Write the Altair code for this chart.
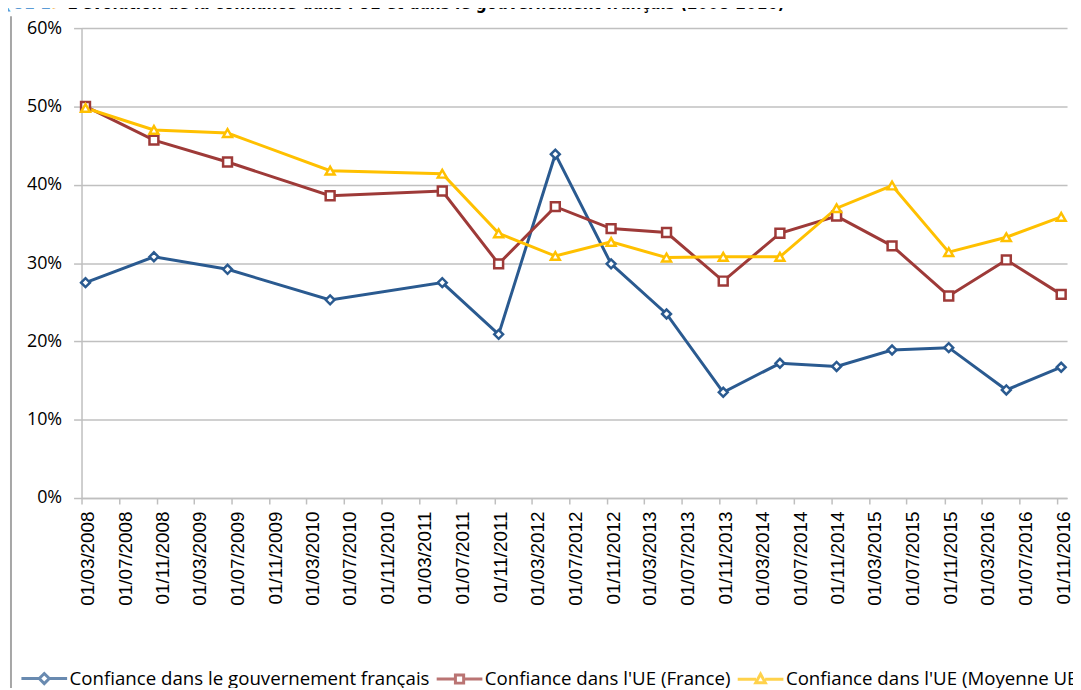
import altair as alt
import pandas as pd

# ---- data ----
dates = ["2008-03-14", "2008-10-22", "2009-06-18", "2010-05-17", "2011-05-16",
         "2011-11-15", "2012-05-17", "2012-11-14", "2013-05-13", "2013-11-13",
         "2014-05-16", "2014-11-16", "2015-05-15", "2015-11-15", "2016-05-20",
         "2016-11-14"]
gouv_fr = [27.5, 30.8, 29.2, 25.3, 27.5, 20.9, 43.9, 29.9, 23.5, 13.5,
           17.2, 16.8, 18.9, 19.2, 13.8, 16.7]
ue_france = [50.0, 45.7, 42.9, 38.6, 39.2, 29.9, 37.2, 34.4, 33.9, 27.7,
             33.8, 36.0, 32.2, 25.8, 30.4, 26.0]
ue_moyenne = [49.8, 47.0, 46.6, 41.8, 41.4, 33.8, 30.9, 32.7, 30.7, 30.8,
              30.8, 37.0, 39.9, 31.4, 33.3, 35.9]
series_names = ["Confiance dans le gouvernement français",
                "Confiance dans l'UE (France)",
                "Confiance dans l'UE (Moyenne UE)"]
tick_years = list(range(2008, 2017))
tick_months = [3, 7, 11]
y_ticks = [0, 10, 20, 30, 40, 50, 60]
title_label = "GRAPHIQUE 1"
title_text = "L'évolution de la confiance dans l'UE et dans le gouvernement français (2008-2016)"

colors = ["#2a5a90", "#9e3a38", "#ffc000"]
marker_shapes = ["diamond", "square", "triangle-up"]
legend_paths = [
    "M-1,0H-0.22M0.22,0H1M-0.22,0L0,-0.22L0.22,0L0,0.22Z",
    "M-1,0H-0.18M0.18,0H1M-0.18,-0.18H0.18V0.18H-0.18Z",
    "M-1,0H-0.2M0.2,0H1M-0.21,0.16L0,-0.22L0.21,0.16Z",
]

rows = []
for name, vals in zip(series_names, [gouv_fr, ue_france, ue_moyenne]):
    for d, v in zip(dates, vals):
        rows.append({"date": d, "serie": name, "value": v})
df = pd.DataFrame(rows)

tick_values = [alt.DateTime(year=y, month=m, date=1, utc=True)
               for y in tick_years for m in tick_months
               if not (y == 2008 and m < 3)]

x_enc = alt.X(
    "date:T",
    scale=alt.Scale(type="utc",
                    domain=[alt.DateTime(year=2008, month=3, date=1, utc=True),
                            alt.DateTime(year=2016, month=12, date=3, utc=True)]),
    axis=alt.Axis(values=tick_values, format="%d/%m/%Y", labelAngle=-90,
                  labelFont="Liberation Sans", labelFontSize=19, labelColor="#000000",
                  labelPadding=7, labelOffset=6, tickSize=6, tickColor="#bfbfbf",
                  tickWidth=1.5, domainColor="#bfbfbf", domainWidth=1.5,
                  grid=False, title=None, labelOverlap=False, labelFlush=False,
                  labelBound=False),
)
y_enc = alt.Y(
    "value:Q",
    scale=alt.Scale(domain=[0, 60], nice=False),
    axis=alt.Axis(values=y_ticks, labelExpr="datum.value + '%'",
                  labelFont="Open Sans", labelFontSize=18, labelColor="#000000",
                  labelPadding=12, tickSize=8, tickColor="#bfbfbf", tickWidth=1.5,
                  domainColor="#bfbfbf", domainWidth=1.5, gridColor="#c0c0c0",
                  gridWidth=1.5, title=None),
)
color_enc = alt.Color("serie:N", scale=alt.Scale(domain=series_names, range=colors),
                      legend=None)

base = alt.Chart(df)
lines = base.mark_line(strokeWidth=3).encode(x=x_enc, y=y_enc, color=color_enc)
points = base.mark_point(filled=False, fill="white", strokeWidth=2.5, size=80,
                         opacity=1).encode(
    x=x_enc, y=y_enc, color=color_enc,
    shape=alt.Shape("serie:N", scale=alt.Scale(domain=series_names, range=marker_shapes),
                    legend=None),
)

leg = alt.Legend(orient="none", legendX=-62, legendY=630, direction="horizontal",
                 title=None, symbolSize=2116, symbolStrokeWidth=3,
                 symbolFillColor="white", labelFont="Open Sans", labelFontSize=18.8,
                 labelColor="#000000", labelLimit=700, labelOffset=1,
                 columnPadding=0)
legend_layer = base.transform_filter("false").mark_point(filled=False, fill="white").encode(
    shape=alt.Shape("serie:N", scale=alt.Scale(domain=series_names, range=legend_paths),
                    legend=leg),
    stroke=alt.Stroke("serie:N", scale=alt.Scale(domain=series_names, range=colors),
                      legend=leg),
)

one = pd.DataFrame({"k": [0]})
frame = alt.Chart(one).mark_rule(color="#a6a6a6", strokeWidth=2).encode(
    x=alt.value(-71), y=alt.value(-12), y2=alt.value(671))
t1 = alt.Chart(one).mark_text(align="right", baseline="alphabetic",
                              font="DejaVu Sans Condensed", fontWeight="bold",
                              fontSize=17, color="#5b9bd5").encode(
    x=alt.value(-31), y=alt.value(-19), text=alt.value(title_label))
t2 = alt.Chart(one).mark_text(align="left", baseline="alphabetic", font="DejaVu Sans",
                              fontSize=13, color="#f39c12").encode(
    x=alt.value(-29), y=alt.value(-19), text=alt.value("►"))
t3 = alt.Chart(one).mark_text(align="left", baseline="alphabetic",
                              font="DejaVu Sans Condensed", fontWeight="bold",
                              fontSize=17, color="#000000").encode(
    x=alt.value(-14), y=alt.value(-19), text=alt.value(title_text))

chart = alt.layer(frame, t1, t2, t3, lines, points, legend_layer).resolve_scale(
    shape="independent", stroke="independent"
).properties(
    width=992, height=473,
    padding={"left": 74, "top": 18, "right": 6, "bottom": 189},
    autosize=alt.AutoSizeParams(type="none"),
).configure_view(stroke=None)

chart.save("out.html", embed_options={"renderer": "svg", "actions": False})
